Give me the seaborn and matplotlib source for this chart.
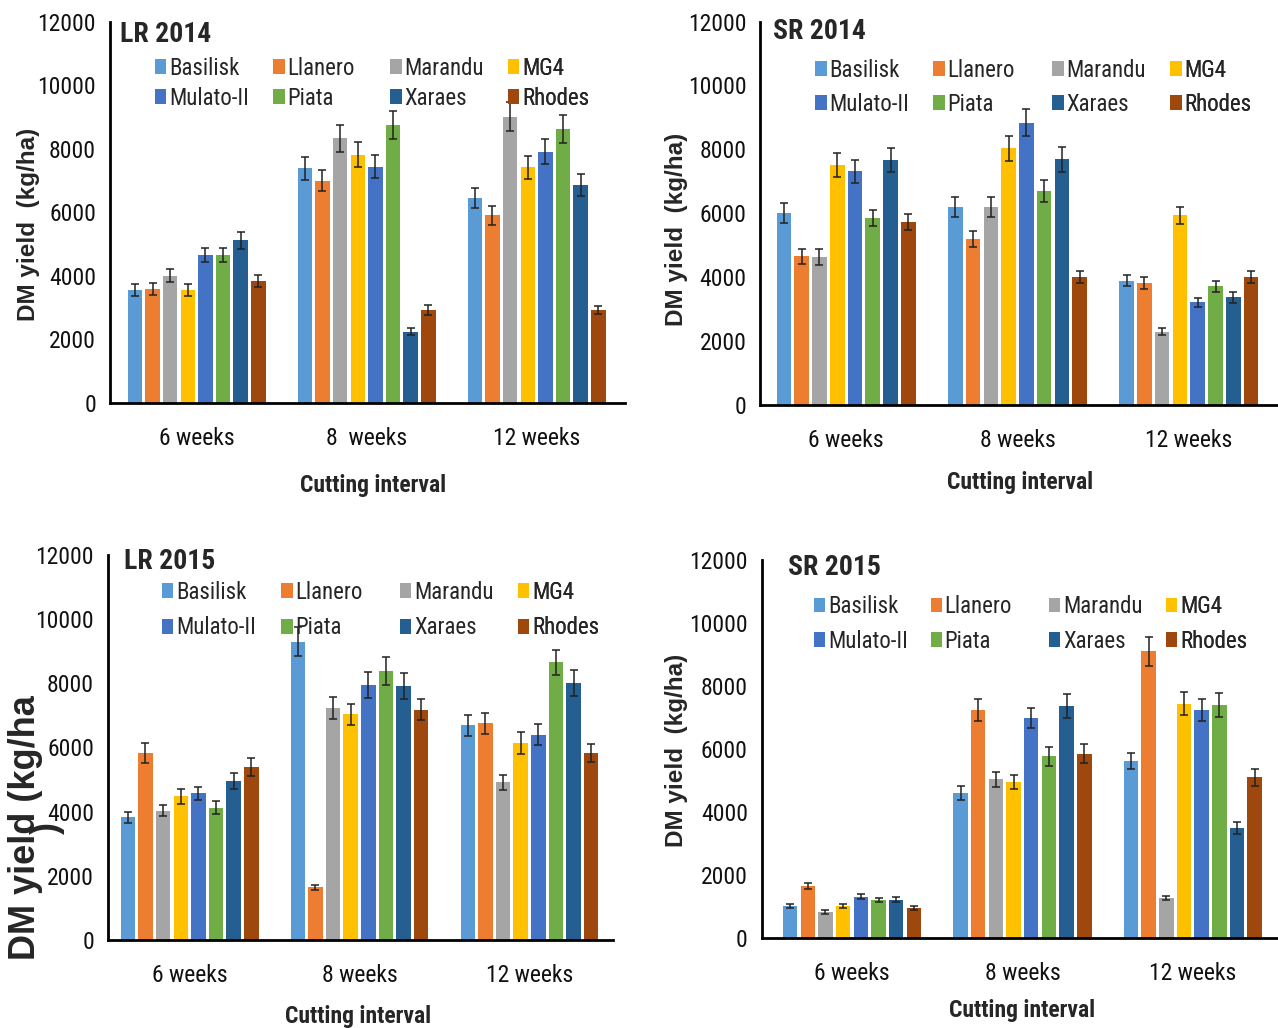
import numpy as np
import pandas as pd
import matplotlib
matplotlib.use('Agg')
import matplotlib.pyplot as plt
import seaborn as sns

# ============================================================
# DATA (kg/ha)
# ============================================================

cultivars = ['Basilisk', 'Llanero', 'Marandu', 'MG4', 'Mulato-II', 'Piata', 'Xaraes', 'Rhodes']
intervals = ['6 weeks', '8 weeks', '12 weeks']
colors = ['#5B9BD5', '#ED7D31', '#A5A5A5', '#FFC000', '#4472C4', '#70AD47', '#255E91', '#9E480E']

# one row per cutting interval, cultivar order as above
lr2014_yield = [[3560, 3590, 4010, 3560, 4650, 4650, 5120, 3840],
                [7380, 6990, 8330, 7810, 7440, 8750, 2240, 2920],
                [6450, 5910, 9010, 7410, 7910, 8620, 6860, 2920]]
lr2014_err = [[180, 190, 200, 180, 230, 230, 260, 190],
              [350, 330, 420, 400, 370, 430, 110, 150],
              [300, 300, 450, 370, 400, 430, 340, 130]]

sr2014_yield = [[6010, 4650, 4630, 7510, 7310, 5840, 7660, 5720],
                [6200, 5200, 6200, 8030, 8840, 6690, 7690, 4010],
                [3890, 3820, 2300, 5940, 3210, 3710, 3370, 4020]]
sr2014_err = [[300, 230, 240, 380, 370, 250, 380, 250],
              [300, 260, 300, 400, 430, 350, 400, 180],
              [180, 190, 100, 270, 150, 180, 170, 190]]

lr2015_yield = [[3820, 5820, 4030, 4470, 4570, 4120, 4950, 5400],
                [9280, 1640, 7220, 7030, 7940, 8380, 7900, 7170],
                [6680, 6750, 4910, 6130, 6390, 8640, 8000, 5820]]
lr2015_err = [[170, 300, 180, 230, 200, 200, 250, 280],
              [450, 80, 350, 330, 400, 430, 400, 330],
              [330, 330, 230, 330, 330, 400, 420, 290]]

sr2015_yield = [[1010, 1660, 820, 1010, 1310, 1210, 1220, 950],
                [4600, 7240, 5030, 4950, 6980, 5760, 7360, 5840],
                [5610, 9090, 1260, 7440, 7240, 7400, 3490, 5100]]
sr2015_err = [[60, 100, 60, 60, 80, 60, 80, 60],
              [220, 350, 230, 230, 330, 300, 370, 300],
              [250, 450, 60, 380, 350, 380, 180, 270]]

panels = [
    # title, yields, errors, tick labels
    ('LR 2014', lr2014_yield, lr2014_err, ['6 weeks', '8  weeks', '12 weeks']),
    ('SR 2014', sr2014_yield, sr2014_err, intervals),
    ('LR 2015', lr2015_yield, lr2015_err, intervals),
    ('SR 2015', sr2015_yield, sr2015_err, intervals),
]

# layout (figure fractions / axes coords)
rects = [[0.086, 0.608, 0.403, 0.371],
         [0.595, 0.606, 0.405, 0.373],
         [0.0845, 0.0856, 0.395, 0.375],
         [0.596, 0.0875, 0.404, 0.368]]
xlims = [(-0.51, 2.52), (-0.50, 2.52), (-0.48, 2.49), (-0.53, 2.50)]
title_pos = [(0.02, 0.966), (0.025, 0.974), (0.032, 0.982), (0.05, 0.979)]
legend_cols = [[0.087, 0.317, 0.544, 0.773],
               [0.106, 0.334, 0.564, 0.792],
               [0.107, 0.343, 0.578, 0.812],
               [0.101, 0.327, 0.556, 0.783]]
legend_top = [0.908, 0.903, 0.932, 0.907]
legend_spacing = [0.30, 0.48, 0.55, 0.52]
ylabel_pos = [(-0.136, 0.467), (-0.139, 0.457), (-0.086, 0.291), (-0.143, 0.497)]
xlabel_pos = [(0.51, -0.186), (0.502, -0.172), (0.495, -0.168), (0.504, -0.161)]

narrow = ['Roboto Condensed', 'Liberation Sans', 'DejaVu Sans']
wide = ['Liberation Sans', 'DejaVu Sans']

sns.set_style('white')
plt.rcParams['font.family'] = narrow

fig = plt.figure(figsize=(12.78, 10.28), dpi=100)

for i, (title, ylds, errs, ticklabels) in enumerate(panels):
    ax = fig.add_axes(rects[i])

    df = pd.DataFrame({
        'interval': np.repeat(intervals, len(cultivars)),
        'cultivar': cultivars * len(intervals),
        'yield': np.ravel(ylds),
    })

    sns.barplot(data=df, x='interval', y='yield', hue='cultivar',
                order=intervals, hue_order=cultivars, palette=colors,
                saturation=1, width=0.83, gap=0.18, errorbar=None,
                linewidth=0, ax=ax)

    # error bars on top of each bar
    err_arr = np.array(errs)
    bar_conts = list(ax.containers)
    for k, cont in enumerate(bar_conts):
        xs = [b.get_x() + b.get_width() / 2 for b in cont]
        ys = [b.get_height() for b in cont]
        ax.errorbar(xs, ys, yerr=err_arr[:, k], fmt='none', ecolor='#222222',
                    elinewidth=1.1, capsize=3, capthick=1.1)

    ax.set_ylim(0, 12000)
    ax.set_yticks(range(0, 12001, 2000))
    ax.set_xlim(*xlims[i])
    ax.set_xticks(range(3))
    ax.set_xticklabels(ticklabels)
    ax.tick_params(axis='both', length=0, labelsize=17, colors='#111111')
    ax.tick_params(axis='x', pad=17)
    ax.tick_params(axis='y', pad=10)

    for side in ['top', 'right']:
        ax.spines[side].set_visible(False)
    for side in ['left', 'bottom']:
        ax.spines[side].set_color('black')
        ax.spines[side].set_linewidth(2)

    ax.set_xlabel('Cutting interval', fontsize=17, fontweight='bold', va='top')
    ax.xaxis.set_label_coords(*xlabel_pos[i])
    if i == 2:
        ax.set_ylabel('DM yield (kg/ha\n)', fontsize=26, fontweight='bold',
                      family=wide, linespacing=0.52)
    else:
        ax.set_ylabel('DM yield  (kg/ha)', fontsize=17.5, fontweight='bold', family=wide)
    ax.yaxis.set_label_coords(*ylabel_pos[i])

    ax.text(title_pos[i][0], title_pos[i][1], title, transform=ax.transAxes,
            fontsize=20, fontweight='bold', va='center', ha='left')

    # legend: 4 columns of 2 entries, each column at its own position
    handles, labels = ax.get_legend_handles_labels()
    ax.get_legend().remove()
    for c in range(4):
        leg = ax.legend([handles[c], handles[c + 4]], [labels[c], labels[c + 4]],
                        loc='upper left', bbox_to_anchor=(legend_cols[i][c], legend_top[i]),
                        frameon=False, fontsize=16.5, handlelength=0.5,
                        handleheight=0.6, handletextpad=0.12,
                        labelspacing=legend_spacing[i], borderpad=0, borderaxespad=0)
        ax.add_artist(leg)

plt.savefig('out.png', dpi=100)
plt.close()
